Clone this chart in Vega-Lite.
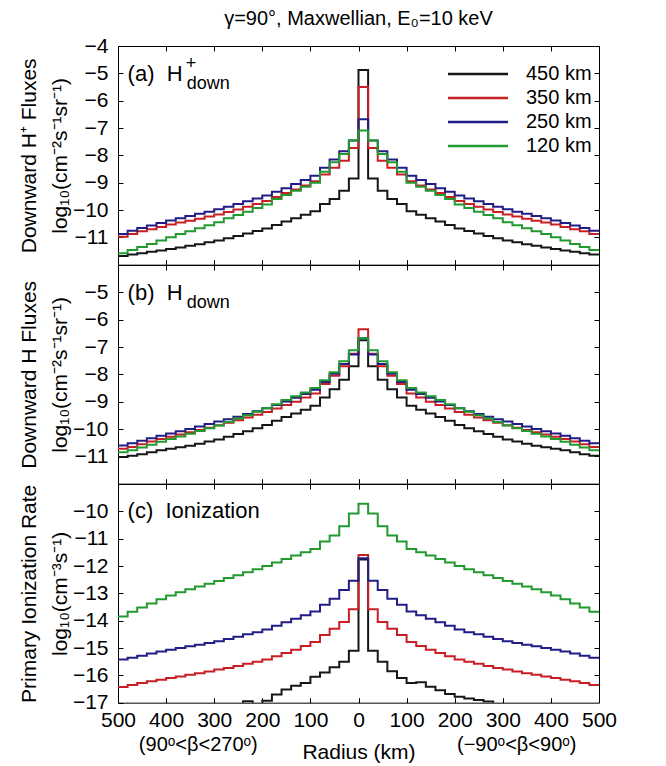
{
"$schema": "https://vega.github.io/schema/vega-lite/v6.json",
"padding": {"left": 17, "top": 8, "right": 5, "bottom": 0},
"background": "white",
"bounds": "flush",
"spacing": 0,
"resolve": {"scale": {"color": "independent"}},
"config": {
  "font": "Liberation Sans",
  "view": {"stroke": "#000000", "strokeWidth": 1},
  "axis": {"domain": false, "grid": false, "tickColor": "#000000", "tickSize": -5, "tickWidth": 1, "labelColor": "#000000", "labelFontSize": 21, "labelPadding": 15, "labelOverlap": false, "labelFlush": false, "titleColor": "#000000", "titleFontSize": 21, "titleFontWeight": "normal", "titleLineHeight": 31, "titlePadding": 2},
  "axisX": {"labelPadding": 12},
  "text": {"color": "#000000", "font": "Liberation Sans"}
},
"datasets": {
"a": [
{"s":"450 km","x":-500,"y":-11.68},{"s":"450 km","x":-480,"y":-11.63},{"s":"450 km","x":-460,"y":-11.58},{"s":"450 km","x":-440,"y":-11.53},{"s":"450 km","x":-420,"y":-11.48},{"s":"450 km","x":-400,"y":-11.43},{"s":"450 km","x":-380,"y":-11.37},{"s":"450 km","x":-360,"y":-11.31},{"s":"450 km","x":-340,"y":-11.25},{"s":"450 km","x":-320,"y":-11.18},{"s":"450 km","x":-300,"y":-11.12},{"s":"450 km","x":-280,"y":-11.03},{"s":"450 km","x":-260,"y":-10.95},{"s":"450 km","x":-240,"y":-10.86},{"s":"450 km","x":-220,"y":-10.77},{"s":"450 km","x":-200,"y":-10.68},{"s":"450 km","x":-180,"y":-10.55},{"s":"450 km","x":-160,"y":-10.42},{"s":"450 km","x":-140,"y":-10.3},{"s":"450 km","x":-120,"y":-10.17},{"s":"450 km","x":-100,"y":-10.05},{"s":"450 km","x":-80,"y":-9.78},{"s":"450 km","x":-60,"y":-9.6},{"s":"450 km","x":-40,"y":-9.3},{"s":"450 km","x":-20,"y":-8.85},{"s":"450 km","x":0,"y":-4.88},{"s":"450 km","x":20,"y":-8.85},{"s":"450 km","x":40,"y":-9.3},{"s":"450 km","x":60,"y":-9.6},{"s":"450 km","x":80,"y":-9.78},{"s":"450 km","x":100,"y":-10.05},{"s":"450 km","x":120,"y":-10.17},{"s":"450 km","x":140,"y":-10.3},{"s":"450 km","x":160,"y":-10.42},{"s":"450 km","x":180,"y":-10.55},{"s":"450 km","x":200,"y":-10.68},{"s":"450 km","x":220,"y":-10.77},{"s":"450 km","x":240,"y":-10.86},{"s":"450 km","x":260,"y":-10.95},{"s":"450 km","x":280,"y":-11.03},{"s":"450 km","x":300,"y":-11.12},{"s":"450 km","x":320,"y":-11.18},{"s":"450 km","x":340,"y":-11.25},{"s":"450 km","x":360,"y":-11.31},{"s":"450 km","x":380,"y":-11.37},{"s":"450 km","x":400,"y":-11.43},{"s":"450 km","x":420,"y":-11.48},{"s":"450 km","x":440,"y":-11.53},{"s":"450 km","x":460,"y":-11.58},{"s":"450 km","x":480,"y":-11.63},{"s":"450 km","x":500,"y":-11.63},
{"s":"350 km","x":-500,"y":-10.98},{"s":"350 km","x":-480,"y":-10.88},{"s":"350 km","x":-460,"y":-10.78},{"s":"350 km","x":-440,"y":-10.7},{"s":"350 km","x":-420,"y":-10.62},{"s":"350 km","x":-400,"y":-10.53},{"s":"350 km","x":-380,"y":-10.46},{"s":"350 km","x":-360,"y":-10.39},{"s":"350 km","x":-340,"y":-10.32},{"s":"350 km","x":-320,"y":-10.24},{"s":"350 km","x":-300,"y":-10.16},{"s":"350 km","x":-280,"y":-10.07},{"s":"350 km","x":-260,"y":-9.98},{"s":"350 km","x":-240,"y":-9.88},{"s":"350 km","x":-220,"y":-9.78},{"s":"350 km","x":-200,"y":-9.67},{"s":"350 km","x":-180,"y":-9.52},{"s":"350 km","x":-160,"y":-9.38},{"s":"350 km","x":-140,"y":-9.25},{"s":"350 km","x":-120,"y":-9.1},{"s":"350 km","x":-100,"y":-8.95},{"s":"350 km","x":-80,"y":-8.7},{"s":"350 km","x":-60,"y":-8.45},{"s":"350 km","x":-40,"y":-8.2},{"s":"350 km","x":-20,"y":-7.73},{"s":"350 km","x":0,"y":-5.5},{"s":"350 km","x":20,"y":-7.73},{"s":"350 km","x":40,"y":-8.2},{"s":"350 km","x":60,"y":-8.45},{"s":"350 km","x":80,"y":-8.7},{"s":"350 km","x":100,"y":-8.95},{"s":"350 km","x":120,"y":-9.1},{"s":"350 km","x":140,"y":-9.25},{"s":"350 km","x":160,"y":-9.38},{"s":"350 km","x":180,"y":-9.52},{"s":"350 km","x":200,"y":-9.67},{"s":"350 km","x":220,"y":-9.78},{"s":"350 km","x":240,"y":-9.88},{"s":"350 km","x":260,"y":-9.98},{"s":"350 km","x":280,"y":-10.07},{"s":"350 km","x":300,"y":-10.16},{"s":"350 km","x":320,"y":-10.24},{"s":"350 km","x":340,"y":-10.32},{"s":"350 km","x":360,"y":-10.39},{"s":"350 km","x":380,"y":-10.46},{"s":"350 km","x":400,"y":-10.53},{"s":"350 km","x":420,"y":-10.62},{"s":"350 km","x":440,"y":-10.7},{"s":"350 km","x":460,"y":-10.78},{"s":"350 km","x":480,"y":-10.88},{"s":"350 km","x":500,"y":-10.88},
{"s":"250 km","x":-500,"y":-10.88},{"s":"250 km","x":-480,"y":-10.76},{"s":"250 km","x":-460,"y":-10.66},{"s":"250 km","x":-440,"y":-10.57},{"s":"250 km","x":-420,"y":-10.48},{"s":"250 km","x":-400,"y":-10.38},{"s":"250 km","x":-380,"y":-10.3},{"s":"250 km","x":-360,"y":-10.22},{"s":"250 km","x":-340,"y":-10.14},{"s":"250 km","x":-320,"y":-10.06},{"s":"250 km","x":-300,"y":-9.97},{"s":"250 km","x":-280,"y":-9.88},{"s":"250 km","x":-260,"y":-9.78},{"s":"250 km","x":-240,"y":-9.68},{"s":"250 km","x":-220,"y":-9.58},{"s":"250 km","x":-200,"y":-9.47},{"s":"250 km","x":-180,"y":-9.33},{"s":"250 km","x":-160,"y":-9.2},{"s":"250 km","x":-140,"y":-9.05},{"s":"250 km","x":-120,"y":-8.9},{"s":"250 km","x":-100,"y":-8.75},{"s":"250 km","x":-80,"y":-8.45},{"s":"250 km","x":-60,"y":-8.15},{"s":"250 km","x":-40,"y":-7.85},{"s":"250 km","x":-20,"y":-7.46},{"s":"250 km","x":0,"y":-6.68},{"s":"250 km","x":20,"y":-7.46},{"s":"250 km","x":40,"y":-7.85},{"s":"250 km","x":60,"y":-8.15},{"s":"250 km","x":80,"y":-8.45},{"s":"250 km","x":100,"y":-8.75},{"s":"250 km","x":120,"y":-8.9},{"s":"250 km","x":140,"y":-9.05},{"s":"250 km","x":160,"y":-9.2},{"s":"250 km","x":180,"y":-9.33},{"s":"250 km","x":200,"y":-9.47},{"s":"250 km","x":220,"y":-9.58},{"s":"250 km","x":240,"y":-9.68},{"s":"250 km","x":260,"y":-9.78},{"s":"250 km","x":280,"y":-9.88},{"s":"250 km","x":300,"y":-9.97},{"s":"250 km","x":320,"y":-10.06},{"s":"250 km","x":340,"y":-10.14},{"s":"250 km","x":360,"y":-10.22},{"s":"250 km","x":380,"y":-10.3},{"s":"250 km","x":400,"y":-10.38},{"s":"250 km","x":420,"y":-10.48},{"s":"250 km","x":440,"y":-10.57},{"s":"250 km","x":460,"y":-10.66},{"s":"250 km","x":480,"y":-10.76},{"s":"250 km","x":500,"y":-10.76},
{"s":"120 km","x":-500,"y":-11.58},{"s":"120 km","x":-480,"y":-11.46},{"s":"120 km","x":-460,"y":-11.35},{"s":"120 km","x":-440,"y":-11.24},{"s":"120 km","x":-420,"y":-11.12},{"s":"120 km","x":-400,"y":-11.0},{"s":"120 km","x":-380,"y":-10.88},{"s":"120 km","x":-360,"y":-10.78},{"s":"120 km","x":-340,"y":-10.67},{"s":"120 km","x":-320,"y":-10.56},{"s":"120 km","x":-300,"y":-10.45},{"s":"120 km","x":-280,"y":-10.3},{"s":"120 km","x":-260,"y":-10.18},{"s":"120 km","x":-240,"y":-10.06},{"s":"120 km","x":-220,"y":-9.93},{"s":"120 km","x":-200,"y":-9.8},{"s":"120 km","x":-180,"y":-9.6},{"s":"120 km","x":-160,"y":-9.45},{"s":"120 km","x":-140,"y":-9.3},{"s":"120 km","x":-120,"y":-9.15},{"s":"120 km","x":-100,"y":-9.0},{"s":"120 km","x":-80,"y":-8.6},{"s":"120 km","x":-60,"y":-8.25},{"s":"120 km","x":-40,"y":-7.95},{"s":"120 km","x":-20,"y":-7.46},{"s":"120 km","x":0,"y":-7.09},{"s":"120 km","x":20,"y":-7.46},{"s":"120 km","x":40,"y":-7.95},{"s":"120 km","x":60,"y":-8.25},{"s":"120 km","x":80,"y":-8.6},{"s":"120 km","x":100,"y":-9.0},{"s":"120 km","x":120,"y":-9.15},{"s":"120 km","x":140,"y":-9.3},{"s":"120 km","x":160,"y":-9.45},{"s":"120 km","x":180,"y":-9.6},{"s":"120 km","x":200,"y":-9.8},{"s":"120 km","x":220,"y":-9.93},{"s":"120 km","x":240,"y":-10.06},{"s":"120 km","x":260,"y":-10.18},{"s":"120 km","x":280,"y":-10.3},{"s":"120 km","x":300,"y":-10.45},{"s":"120 km","x":320,"y":-10.56},{"s":"120 km","x":340,"y":-10.67},{"s":"120 km","x":360,"y":-10.78},{"s":"120 km","x":380,"y":-10.88},{"s":"120 km","x":400,"y":-11.0},{"s":"120 km","x":420,"y":-11.12},{"s":"120 km","x":440,"y":-11.24},{"s":"120 km","x":460,"y":-11.35},{"s":"120 km","x":480,"y":-11.46},{"s":"120 km","x":500,"y":-11.46}
],
"b": [
{"s":"450 km","x":-500,"y":-11.02},{"s":"450 km","x":-480,"y":-10.98},{"s":"450 km","x":-460,"y":-10.92},{"s":"450 km","x":-440,"y":-10.85},{"s":"450 km","x":-420,"y":-10.78},{"s":"450 km","x":-400,"y":-10.72},{"s":"450 km","x":-380,"y":-10.67},{"s":"450 km","x":-360,"y":-10.61},{"s":"450 km","x":-340,"y":-10.54},{"s":"450 km","x":-320,"y":-10.46},{"s":"450 km","x":-300,"y":-10.38},{"s":"450 km","x":-280,"y":-10.28},{"s":"450 km","x":-260,"y":-10.18},{"s":"450 km","x":-240,"y":-10.08},{"s":"450 km","x":-220,"y":-9.97},{"s":"450 km","x":-200,"y":-9.85},{"s":"450 km","x":-180,"y":-9.7},{"s":"450 km","x":-160,"y":-9.56},{"s":"450 km","x":-140,"y":-9.43},{"s":"450 km","x":-120,"y":-9.3},{"s":"450 km","x":-100,"y":-9.15},{"s":"450 km","x":-80,"y":-8.85},{"s":"450 km","x":-60,"y":-8.55},{"s":"450 km","x":-40,"y":-8.2},{"s":"450 km","x":-20,"y":-7.7},{"s":"450 km","x":0,"y":-6.75},{"s":"450 km","x":20,"y":-7.7},{"s":"450 km","x":40,"y":-8.2},{"s":"450 km","x":60,"y":-8.55},{"s":"450 km","x":80,"y":-8.85},{"s":"450 km","x":100,"y":-9.15},{"s":"450 km","x":120,"y":-9.3},{"s":"450 km","x":140,"y":-9.43},{"s":"450 km","x":160,"y":-9.56},{"s":"450 km","x":180,"y":-9.7},{"s":"450 km","x":200,"y":-9.85},{"s":"450 km","x":220,"y":-9.97},{"s":"450 km","x":240,"y":-10.08},{"s":"450 km","x":260,"y":-10.18},{"s":"450 km","x":280,"y":-10.28},{"s":"450 km","x":300,"y":-10.38},{"s":"450 km","x":320,"y":-10.46},{"s":"450 km","x":340,"y":-10.54},{"s":"450 km","x":360,"y":-10.61},{"s":"450 km","x":380,"y":-10.67},{"s":"450 km","x":400,"y":-10.72},{"s":"450 km","x":420,"y":-10.78},{"s":"450 km","x":440,"y":-10.85},{"s":"450 km","x":460,"y":-10.92},{"s":"450 km","x":480,"y":-10.98},{"s":"450 km","x":500,"y":-10.98},
{"s":"350 km","x":-500,"y":-10.72},{"s":"350 km","x":-480,"y":-10.66},{"s":"350 km","x":-460,"y":-10.56},{"s":"350 km","x":-440,"y":-10.46},{"s":"350 km","x":-420,"y":-10.37},{"s":"350 km","x":-400,"y":-10.28},{"s":"350 km","x":-380,"y":-10.2},{"s":"350 km","x":-360,"y":-10.12},{"s":"350 km","x":-340,"y":-10.04},{"s":"350 km","x":-320,"y":-9.95},{"s":"350 km","x":-300,"y":-9.86},{"s":"350 km","x":-280,"y":-9.77},{"s":"350 km","x":-260,"y":-9.68},{"s":"350 km","x":-240,"y":-9.58},{"s":"350 km","x":-220,"y":-9.48},{"s":"350 km","x":-200,"y":-9.38},{"s":"350 km","x":-180,"y":-9.25},{"s":"350 km","x":-160,"y":-9.12},{"s":"350 km","x":-140,"y":-9.0},{"s":"350 km","x":-120,"y":-8.85},{"s":"350 km","x":-100,"y":-8.7},{"s":"350 km","x":-80,"y":-8.35},{"s":"350 km","x":-60,"y":-8.05},{"s":"350 km","x":-40,"y":-7.7},{"s":"350 km","x":-20,"y":-7.25},{"s":"350 km","x":0,"y":-6.35},{"s":"350 km","x":20,"y":-7.25},{"s":"350 km","x":40,"y":-7.7},{"s":"350 km","x":60,"y":-8.05},{"s":"350 km","x":80,"y":-8.35},{"s":"350 km","x":100,"y":-8.7},{"s":"350 km","x":120,"y":-8.85},{"s":"350 km","x":140,"y":-9.0},{"s":"350 km","x":160,"y":-9.12},{"s":"350 km","x":180,"y":-9.25},{"s":"350 km","x":200,"y":-9.38},{"s":"350 km","x":220,"y":-9.48},{"s":"350 km","x":240,"y":-9.58},{"s":"350 km","x":260,"y":-9.68},{"s":"350 km","x":280,"y":-9.77},{"s":"350 km","x":300,"y":-9.86},{"s":"350 km","x":320,"y":-9.95},{"s":"350 km","x":340,"y":-10.04},{"s":"350 km","x":360,"y":-10.12},{"s":"350 km","x":380,"y":-10.2},{"s":"350 km","x":400,"y":-10.28},{"s":"350 km","x":420,"y":-10.37},{"s":"350 km","x":440,"y":-10.46},{"s":"350 km","x":460,"y":-10.56},{"s":"350 km","x":480,"y":-10.66},{"s":"350 km","x":500,"y":-10.66},
{"s":"250 km","x":-500,"y":-10.6},{"s":"250 km","x":-480,"y":-10.52},{"s":"250 km","x":-460,"y":-10.43},{"s":"250 km","x":-440,"y":-10.34},{"s":"250 km","x":-420,"y":-10.25},{"s":"250 km","x":-400,"y":-10.16},{"s":"250 km","x":-380,"y":-10.08},{"s":"250 km","x":-360,"y":-10.0},{"s":"250 km","x":-340,"y":-9.91},{"s":"250 km","x":-320,"y":-9.82},{"s":"250 km","x":-300,"y":-9.73},{"s":"250 km","x":-280,"y":-9.64},{"s":"250 km","x":-260,"y":-9.55},{"s":"250 km","x":-240,"y":-9.45},{"s":"250 km","x":-220,"y":-9.35},{"s":"250 km","x":-200,"y":-9.24},{"s":"250 km","x":-180,"y":-9.12},{"s":"250 km","x":-160,"y":-8.99},{"s":"250 km","x":-140,"y":-8.86},{"s":"250 km","x":-120,"y":-8.72},{"s":"250 km","x":-100,"y":-8.56},{"s":"250 km","x":-80,"y":-8.28},{"s":"250 km","x":-60,"y":-7.98},{"s":"250 km","x":-40,"y":-7.62},{"s":"250 km","x":-20,"y":-7.27},{"s":"250 km","x":0,"y":-6.68},{"s":"250 km","x":20,"y":-7.27},{"s":"250 km","x":40,"y":-7.62},{"s":"250 km","x":60,"y":-7.98},{"s":"250 km","x":80,"y":-8.28},{"s":"250 km","x":100,"y":-8.56},{"s":"250 km","x":120,"y":-8.72},{"s":"250 km","x":140,"y":-8.86},{"s":"250 km","x":160,"y":-8.99},{"s":"250 km","x":180,"y":-9.12},{"s":"250 km","x":200,"y":-9.24},{"s":"250 km","x":220,"y":-9.35},{"s":"250 km","x":240,"y":-9.45},{"s":"250 km","x":260,"y":-9.55},{"s":"250 km","x":280,"y":-9.64},{"s":"250 km","x":300,"y":-9.73},{"s":"250 km","x":320,"y":-9.82},{"s":"250 km","x":340,"y":-9.91},{"s":"250 km","x":360,"y":-10.0},{"s":"250 km","x":380,"y":-10.08},{"s":"250 km","x":400,"y":-10.16},{"s":"250 km","x":420,"y":-10.25},{"s":"250 km","x":440,"y":-10.34},{"s":"250 km","x":460,"y":-10.43},{"s":"250 km","x":480,"y":-10.52},{"s":"250 km","x":500,"y":-10.52},
{"s":"120 km","x":-500,"y":-10.85},{"s":"120 km","x":-480,"y":-10.78},{"s":"120 km","x":-460,"y":-10.68},{"s":"120 km","x":-440,"y":-10.58},{"s":"120 km","x":-420,"y":-10.47},{"s":"120 km","x":-400,"y":-10.37},{"s":"120 km","x":-380,"y":-10.27},{"s":"120 km","x":-360,"y":-10.17},{"s":"120 km","x":-340,"y":-10.07},{"s":"120 km","x":-320,"y":-9.97},{"s":"120 km","x":-300,"y":-9.87},{"s":"120 km","x":-280,"y":-9.74},{"s":"120 km","x":-260,"y":-9.62},{"s":"120 km","x":-240,"y":-9.5},{"s":"120 km","x":-220,"y":-9.37},{"s":"120 km","x":-200,"y":-9.24},{"s":"120 km","x":-180,"y":-9.09},{"s":"120 km","x":-160,"y":-8.94},{"s":"120 km","x":-140,"y":-8.8},{"s":"120 km","x":-120,"y":-8.66},{"s":"120 km","x":-100,"y":-8.5},{"s":"120 km","x":-80,"y":-8.22},{"s":"120 km","x":-60,"y":-7.92},{"s":"120 km","x":-40,"y":-7.52},{"s":"120 km","x":-20,"y":-7.12},{"s":"120 km","x":0,"y":-6.68},{"s":"120 km","x":20,"y":-7.12},{"s":"120 km","x":40,"y":-7.52},{"s":"120 km","x":60,"y":-7.92},{"s":"120 km","x":80,"y":-8.22},{"s":"120 km","x":100,"y":-8.5},{"s":"120 km","x":120,"y":-8.66},{"s":"120 km","x":140,"y":-8.8},{"s":"120 km","x":160,"y":-8.94},{"s":"120 km","x":180,"y":-9.09},{"s":"120 km","x":200,"y":-9.24},{"s":"120 km","x":220,"y":-9.37},{"s":"120 km","x":240,"y":-9.5},{"s":"120 km","x":260,"y":-9.62},{"s":"120 km","x":280,"y":-9.74},{"s":"120 km","x":300,"y":-9.87},{"s":"120 km","x":320,"y":-9.97},{"s":"120 km","x":340,"y":-10.07},{"s":"120 km","x":360,"y":-10.17},{"s":"120 km","x":380,"y":-10.27},{"s":"120 km","x":400,"y":-10.37},{"s":"120 km","x":420,"y":-10.47},{"s":"120 km","x":440,"y":-10.58},{"s":"120 km","x":460,"y":-10.68},{"s":"120 km","x":480,"y":-10.78},{"s":"120 km","x":500,"y":-10.78}
],
"c": [
{"s":"450 km","x":-500,"y":-17.9},{"s":"450 km","x":-480,"y":-17.85},{"s":"450 km","x":-460,"y":-17.8},{"s":"450 km","x":-440,"y":-17.75},{"s":"450 km","x":-420,"y":-17.7},{"s":"450 km","x":-400,"y":-17.65},{"s":"450 km","x":-380,"y":-17.6},{"s":"450 km","x":-360,"y":-17.55},{"s":"450 km","x":-340,"y":-17.5},{"s":"450 km","x":-320,"y":-17.45},{"s":"450 km","x":-300,"y":-17.4},{"s":"450 km","x":-280,"y":-17.3},{"s":"450 km","x":-260,"y":-17.2},{"s":"450 km","x":-240,"y":-16.95},{"s":"450 km","x":-220,"y":-17.15},{"s":"450 km","x":-200,"y":-16.93},{"s":"450 km","x":-180,"y":-16.7},{"s":"450 km","x":-160,"y":-16.52},{"s":"450 km","x":-140,"y":-16.38},{"s":"450 km","x":-120,"y":-16.28},{"s":"450 km","x":-100,"y":-16.05},{"s":"450 km","x":-80,"y":-15.9},{"s":"450 km","x":-60,"y":-15.7},{"s":"450 km","x":-40,"y":-15.5},{"s":"450 km","x":-20,"y":-15.1},{"s":"450 km","x":0,"y":-11.76},{"s":"450 km","x":20,"y":-15.1},{"s":"450 km","x":40,"y":-15.5},{"s":"450 km","x":60,"y":-15.85},{"s":"450 km","x":80,"y":-16.1},{"s":"450 km","x":100,"y":-16.28},{"s":"450 km","x":120,"y":-16.25},{"s":"450 km","x":140,"y":-16.42},{"s":"450 km","x":160,"y":-16.55},{"s":"450 km","x":180,"y":-16.68},{"s":"450 km","x":200,"y":-16.78},{"s":"450 km","x":220,"y":-16.85},{"s":"450 km","x":240,"y":-16.9},{"s":"450 km","x":260,"y":-16.96},{"s":"450 km","x":280,"y":-17.05},{"s":"450 km","x":300,"y":-17.15},{"s":"450 km","x":320,"y":-17.25},{"s":"450 km","x":340,"y":-17.3},{"s":"450 km","x":360,"y":-17.35},{"s":"450 km","x":380,"y":-17.4},{"s":"450 km","x":400,"y":-17.45},{"s":"450 km","x":420,"y":-17.5},{"s":"450 km","x":440,"y":-17.55},{"s":"450 km","x":460,"y":-17.6},{"s":"450 km","x":480,"y":-17.65},{"s":"450 km","x":500,"y":-17.65},
{"s":"350 km","x":-500,"y":-16.43},{"s":"350 km","x":-480,"y":-16.35},{"s":"350 km","x":-460,"y":-16.28},{"s":"350 km","x":-440,"y":-16.22},{"s":"350 km","x":-420,"y":-16.16},{"s":"350 km","x":-400,"y":-16.1},{"s":"350 km","x":-380,"y":-16.04},{"s":"350 km","x":-360,"y":-15.98},{"s":"350 km","x":-340,"y":-15.92},{"s":"350 km","x":-320,"y":-15.86},{"s":"350 km","x":-300,"y":-15.79},{"s":"350 km","x":-280,"y":-15.73},{"s":"350 km","x":-260,"y":-15.66},{"s":"350 km","x":-240,"y":-15.58},{"s":"350 km","x":-220,"y":-15.5},{"s":"350 km","x":-200,"y":-15.42},{"s":"350 km","x":-180,"y":-15.3},{"s":"350 km","x":-160,"y":-15.18},{"s":"350 km","x":-140,"y":-15.06},{"s":"350 km","x":-120,"y":-14.93},{"s":"350 km","x":-100,"y":-14.78},{"s":"350 km","x":-80,"y":-14.52},{"s":"350 km","x":-60,"y":-14.3},{"s":"350 km","x":-40,"y":-14.05},{"s":"350 km","x":-20,"y":-13.58},{"s":"350 km","x":0,"y":-11.6},{"s":"350 km","x":20,"y":-13.58},{"s":"350 km","x":40,"y":-14.05},{"s":"350 km","x":60,"y":-14.3},{"s":"350 km","x":80,"y":-14.52},{"s":"350 km","x":100,"y":-14.78},{"s":"350 km","x":120,"y":-14.93},{"s":"350 km","x":140,"y":-15.06},{"s":"350 km","x":160,"y":-15.18},{"s":"350 km","x":180,"y":-15.3},{"s":"350 km","x":200,"y":-15.42},{"s":"350 km","x":220,"y":-15.5},{"s":"350 km","x":240,"y":-15.58},{"s":"350 km","x":260,"y":-15.66},{"s":"350 km","x":280,"y":-15.73},{"s":"350 km","x":300,"y":-15.79},{"s":"350 km","x":320,"y":-15.86},{"s":"350 km","x":340,"y":-15.92},{"s":"350 km","x":360,"y":-15.98},{"s":"350 km","x":380,"y":-16.04},{"s":"350 km","x":400,"y":-16.1},{"s":"350 km","x":420,"y":-16.16},{"s":"350 km","x":440,"y":-16.22},{"s":"350 km","x":460,"y":-16.28},{"s":"350 km","x":480,"y":-16.35},{"s":"350 km","x":500,"y":-16.35},
{"s":"250 km","x":-500,"y":-15.42},{"s":"250 km","x":-480,"y":-15.36},{"s":"250 km","x":-460,"y":-15.28},{"s":"250 km","x":-440,"y":-15.2},{"s":"250 km","x":-420,"y":-15.13},{"s":"250 km","x":-400,"y":-15.06},{"s":"250 km","x":-380,"y":-15.0},{"s":"250 km","x":-360,"y":-14.94},{"s":"250 km","x":-340,"y":-14.88},{"s":"250 km","x":-320,"y":-14.82},{"s":"250 km","x":-300,"y":-14.75},{"s":"250 km","x":-280,"y":-14.67},{"s":"250 km","x":-260,"y":-14.59},{"s":"250 km","x":-240,"y":-14.5},{"s":"250 km","x":-220,"y":-14.42},{"s":"250 km","x":-200,"y":-14.32},{"s":"250 km","x":-180,"y":-14.19},{"s":"250 km","x":-160,"y":-14.06},{"s":"250 km","x":-140,"y":-13.93},{"s":"250 km","x":-120,"y":-13.8},{"s":"250 km","x":-100,"y":-13.66},{"s":"250 km","x":-80,"y":-13.42},{"s":"250 km","x":-60,"y":-13.2},{"s":"250 km","x":-40,"y":-12.88},{"s":"250 km","x":-20,"y":-12.54},{"s":"250 km","x":0,"y":-11.72},{"s":"250 km","x":20,"y":-12.54},{"s":"250 km","x":40,"y":-12.88},{"s":"250 km","x":60,"y":-13.2},{"s":"250 km","x":80,"y":-13.42},{"s":"250 km","x":100,"y":-13.66},{"s":"250 km","x":120,"y":-13.8},{"s":"250 km","x":140,"y":-13.93},{"s":"250 km","x":160,"y":-14.06},{"s":"250 km","x":180,"y":-14.19},{"s":"250 km","x":200,"y":-14.32},{"s":"250 km","x":220,"y":-14.42},{"s":"250 km","x":240,"y":-14.5},{"s":"250 km","x":260,"y":-14.59},{"s":"250 km","x":280,"y":-14.67},{"s":"250 km","x":300,"y":-14.75},{"s":"250 km","x":320,"y":-14.82},{"s":"250 km","x":340,"y":-14.88},{"s":"250 km","x":360,"y":-14.94},{"s":"250 km","x":380,"y":-15.0},{"s":"250 km","x":400,"y":-15.06},{"s":"250 km","x":420,"y":-15.13},{"s":"250 km","x":440,"y":-15.2},{"s":"250 km","x":460,"y":-15.28},{"s":"250 km","x":480,"y":-15.36},{"s":"250 km","x":500,"y":-15.36},
{"s":"120 km","x":-500,"y":-13.85},{"s":"120 km","x":-480,"y":-13.67},{"s":"120 km","x":-460,"y":-13.52},{"s":"120 km","x":-440,"y":-13.37},{"s":"120 km","x":-420,"y":-13.22},{"s":"120 km","x":-400,"y":-13.08},{"s":"120 km","x":-380,"y":-12.96},{"s":"120 km","x":-360,"y":-12.85},{"s":"120 km","x":-340,"y":-12.75},{"s":"120 km","x":-320,"y":-12.65},{"s":"120 km","x":-300,"y":-12.55},{"s":"120 km","x":-280,"y":-12.44},{"s":"120 km","x":-260,"y":-12.34},{"s":"120 km","x":-240,"y":-12.23},{"s":"120 km","x":-220,"y":-12.12},{"s":"120 km","x":-200,"y":-12.0},{"s":"120 km","x":-180,"y":-11.87},{"s":"120 km","x":-160,"y":-11.74},{"s":"120 km","x":-140,"y":-11.62},{"s":"120 km","x":-120,"y":-11.5},{"s":"120 km","x":-100,"y":-11.38},{"s":"120 km","x":-80,"y":-11.1},{"s":"120 km","x":-60,"y":-10.88},{"s":"120 km","x":-40,"y":-10.55},{"s":"120 km","x":-20,"y":-10.08},{"s":"120 km","x":0,"y":-9.72},{"s":"120 km","x":20,"y":-10.08},{"s":"120 km","x":40,"y":-10.55},{"s":"120 km","x":60,"y":-10.88},{"s":"120 km","x":80,"y":-11.1},{"s":"120 km","x":100,"y":-11.38},{"s":"120 km","x":120,"y":-11.5},{"s":"120 km","x":140,"y":-11.62},{"s":"120 km","x":160,"y":-11.74},{"s":"120 km","x":180,"y":-11.87},{"s":"120 km","x":200,"y":-12.0},{"s":"120 km","x":220,"y":-12.12},{"s":"120 km","x":240,"y":-12.23},{"s":"120 km","x":260,"y":-12.34},{"s":"120 km","x":280,"y":-12.44},{"s":"120 km","x":300,"y":-12.55},{"s":"120 km","x":320,"y":-12.65},{"s":"120 km","x":340,"y":-12.75},{"s":"120 km","x":360,"y":-12.85},{"s":"120 km","x":380,"y":-12.96},{"s":"120 km","x":400,"y":-13.08},{"s":"120 km","x":420,"y":-13.22},{"s":"120 km","x":440,"y":-13.37},{"s":"120 km","x":460,"y":-13.52},{"s":"120 km","x":480,"y":-13.67},{"s":"120 km","x":500,"y":-13.67}
]
},
"vconcat": [
{
  "width": 481, "height": 218.67,
  "data": {"name": "a"},
  "title": {"text": "γ=90°, Maxwellian, E₀=10 keV", "fontSize": 20, "fontWeight": "normal", "color": "#000000", "offset": 6, "anchor": "middle", "frame": "group"},
  "layer": [
    {"mark": {"type": "line", "interpolate": "step-after", "clip": true, "strokeWidth": 2},
     "encoding": {
       "x": {"field": "x", "type": "quantitative", "scale": {"domain": [-500, 500], "nice": false, "zero": false},
             "axis": {"orient": "bottom", "values": [-500,-400,-300,-200,-100,0,100,200,300,400,500], "labels": false, "title": null}},
       "y": {"field": "y", "type": "quantitative", "scale": {"domain": [-12, -4], "nice": false, "zero": false},
             "axis": {"orient": "left", "values": [-11,-10,-9,-8,-7,-6,-5,-4], "format": "d", "title": ["Downward H⁺ Fluxes", "log₁₀(cm⁻²s⁻¹sr⁻¹)"]}},
       "color": {"field": "s", "type": "nominal", "scale": {"domain": ["450 km","350 km","250 km","120 km"], "range": ["#161616","#c81e24","#221c86","#219a30"]},
                 "legend": {"orient": "none", "legendX": 350, "legendY": 18, "title": null, "symbolType": "M-6,0H6", "symbolSize": 100, "symbolStrokeWidth": 2.5, "labelFontSize": 20, "labelColor": "#000000", "labelOffset": 38, "rowPadding": 4, "padding": 0}}
     }},
    {"data": {"values": [{}]},
     "mark": {"type": "text", "align": "left", "baseline": "alphabetic", "fontSize": 22},
     "encoding": {
       "x": {"datum": -480, "type": "quantitative", "axis": {"orient": "top", "labels": false, "title": null, "values": [-500,-400,-300,-200,-100,0,100,200,300,400,500]}},
       "y": {"datum": -5.28, "type": "quantitative", "axis": {"orient": "right", "labels": false, "title": null, "values": [-11,-10,-9,-8,-7,-6,-5]}},
       "text": {"value": "(a)\u00a0\u00a0H"}
     }},
    {"data": {"values": [{}]},
     "mark": {"type": "text", "align": "left", "baseline": "alphabetic", "fontSize": 18},
     "encoding": {
       "x": {"datum": -359, "type": "quantitative", "axis": null},
       "y": {"datum": -4.85, "type": "quantitative", "axis": null},
       "text": {"value": "+"}
     }},
    {"data": {"values": [{}]},
     "mark": {"type": "text", "align": "left", "baseline": "alphabetic", "fontSize": 18},
     "encoding": {
       "x": {"datum": -357, "type": "quantitative", "axis": null},
       "y": {"datum": -5.57, "type": "quantitative", "axis": null},
       "text": {"value": "down"}
     }}
  ]
},
{
  "width": 481, "height": 218.67,
  "data": {"name": "b"},
  "layer": [
    {"mark": {"type": "line", "interpolate": "step-after", "clip": true, "strokeWidth": 2},
     "encoding": {
       "x": {"field": "x", "type": "quantitative", "scale": {"domain": [-500, 500], "nice": false, "zero": false},
             "axis": {"orient": "bottom", "values": [-500,-400,-300,-200,-100,0,100,200,300,400,500], "labels": false, "title": null}},
       "y": {"field": "y", "type": "quantitative", "scale": {"domain": [-12, -4], "nice": false, "zero": false},
             "axis": {"orient": "left", "values": [-11,-10,-9,-8,-7,-6,-5], "format": "d", "title": ["Downward H Fluxes", "log₁₀(cm⁻²s⁻¹sr⁻¹)"]}},
       "color": {"field": "s", "type": "nominal", "scale": {"domain": ["450 km","350 km","250 km","120 km"], "range": ["#161616","#c81e24","#221c86","#219a30"]}, "legend": null}
     }},
    {"data": {"values": [{}]},
     "mark": {"type": "text", "align": "left", "baseline": "alphabetic", "fontSize": 22},
     "encoding": {
       "x": {"datum": -480, "type": "quantitative", "axis": {"orient": "top", "labels": false, "title": null, "values": [-500,-400,-300,-200,-100,0,100,200,300,400,500]}},
       "y": {"datum": -5.27, "type": "quantitative", "axis": {"orient": "right", "labels": false, "title": null, "values": [-11,-10,-9,-8,-7,-6,-5]}},
       "text": {"value": "(b)\u00a0\u00a0H"}
     }},
    {"data": {"values": [{}]},
     "mark": {"type": "text", "align": "left", "baseline": "alphabetic", "fontSize": 18},
     "encoding": {
       "x": {"datum": -357, "type": "quantitative", "axis": null},
       "y": {"datum": -5.58, "type": "quantitative", "axis": null},
       "text": {"value": "down"}
     }}
  ]
},
{
  "width": 481, "height": 218.67,
  "data": {"name": "c"},
  "layer": [
    {"mark": {"type": "line", "interpolate": "step-after", "clip": true, "strokeWidth": 2},
     "encoding": {
       "x": {"field": "x", "type": "quantitative", "scale": {"domain": [-500, 500], "nice": false, "zero": false},
             "axis": {"orient": "bottom", "values": [-500,-400,-300,-200,-100,0,100,200,300,400,500], "format": "d", "labelExpr": "replace(datum.label, '−', '')", "title": "Radius (km)", "titlePadding": 11}},
       "y": {"field": "y", "type": "quantitative", "scale": {"domain": [-17, -9], "nice": false, "zero": false},
             "axis": {"orient": "left", "values": [-17,-16,-15,-14,-13,-12,-11,-10], "format": "d", "title": ["Primary Ionization Rate", "log₁₀(cm⁻³s⁻¹)"]}},
       "color": {"field": "s", "type": "nominal", "scale": {"domain": ["450 km","350 km","250 km","120 km"], "range": ["#161616","#c81e24","#221c86","#219a30"]}, "legend": null}
     }},
    {"data": {"values": [{}]},
     "mark": {"type": "text", "align": "left", "baseline": "alphabetic", "fontSize": 22},
     "encoding": {
       "x": {"datum": -480, "type": "quantitative", "axis": {"orient": "top", "labels": false, "title": null, "values": [-500,-400,-300,-200,-100,0,100,200,300,400,500]}},
       "y": {"datum": -10.25, "type": "quantitative", "axis": {"orient": "right", "labels": false, "title": null, "values": [-16,-15,-14,-13,-12,-11,-10]}},
       "text": {"value": "(c)\u00a0\u00a0Ionization"}
     }},
    {"data": {"values": [{}]},
     "mark": {"type": "text", "align": "center", "baseline": "middle", "fontSize": 20},
     "encoding": {
       "x": {"datum": -333, "type": "quantitative", "axis": null},
       "y": {"datum": -18.55, "type": "quantitative", "axis": null},
       "text": {"value": "(90ᵒ<β<270ᵒ)"}
     }},
    {"data": {"values": [{}]},
     "mark": {"type": "text", "align": "center", "baseline": "middle", "fontSize": 20},
     "encoding": {
       "x": {"datum": 329, "type": "quantitative", "axis": null},
       "y": {"datum": -18.55, "type": "quantitative", "axis": null},
       "text": {"value": "(−90ᵒ<β<90ᵒ)"}
     }}
  ]
}
]
}
